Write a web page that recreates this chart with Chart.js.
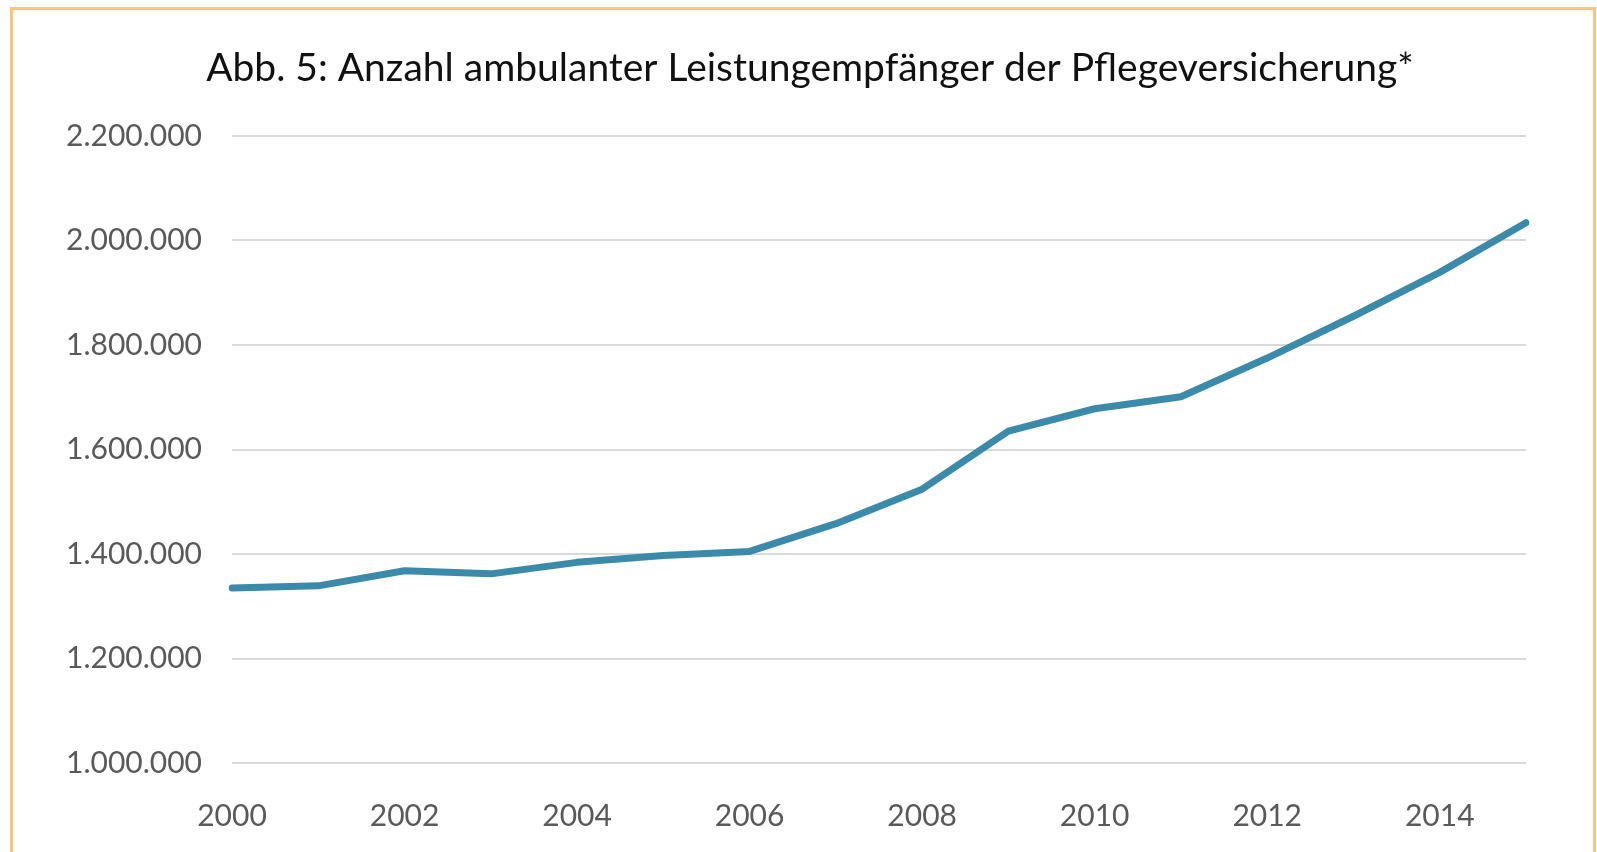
<!DOCTYPE html>
<html>
<head>
<meta charset="utf-8">
<script src="https://cdn.jsdelivr.net/npm/chart.js@4/dist/chart.umd.min.js"></script>
<style>
  html, body { margin: 0; padding: 0; background: #fff; }
  #wrap { position: relative; width: 1597px; height: 852px; overflow: hidden; }
  #frame {
    position: absolute; left: 10px; top: 7px; width: 1580px; height: 900px;
    border: 3px solid #f9c47c; border-bottom: none; pointer-events: none;
  }
  canvas { position: absolute; left: 0; top: 0; }
</style>
</head>
<body>
<div id="wrap">
  <canvas id="chart" width="1597" height="852"></canvas>
  <div id="frame"></div>
</div>
<script>
const years = ['2000', '2001', '2002', '2003', '2004', '2005', '2006', '2007',
  '2008', '2009', '2010', '2011', '2012', '2013', '2014', '2015'];
const recipients = [1335000, 1339000, 1368000, 1362000, 1384000, 1397000, 1405000, 1458000,
  1524000, 1635000, 1678000, 1701000, 1775000, 1855000, 1939000, 2034000];
const chartTitle = 'Abb. 5: Anzahl ambulanter Leistungempfänger der Pflegeversicherung*';

const fmt = v => String(v).replace(/\B(?=(\d{3})+(?!\d))/g, '.');

// the title sits a bit right of the canvas centre, so draw it ourselves
const titlePlugin = {
  id: 'offsetTitle',
  afterDraw(chart) {
    const c = chart.ctx;
    c.save();
    c.font = '39px Lato';
    c.fillStyle = '#111';
    c.textAlign = 'center';
    c.textBaseline = 'middle';
    c.fillText(chartTitle, 810, 68);
    c.restore();
  }
};

const ctx = document.getElementById('chart').getContext('2d');
new Chart(ctx, {
  type: 'line',
  data: {
    labels: years,
    datasets: [{
      data: recipients,
      borderColor: '#3b8aaa',
      borderWidth: 7,
      borderCapStyle: 'round',
      borderJoinStyle: 'round',
      pointRadius: 0,
      tension: 0,
      fill: false
    }]
  },
  options: {
    responsive: false,
    animation: false,
    layout: { padding: { left: 0, right: 71, top: 136, bottom: 0 } },
    plugins: {
      legend: { display: false },
      tooltip: { enabled: false },
      title: { display: false }
    },
    scales: {
      x: {
        offset: false,
        grid: { display: false },
        border: { display: false },
        ticks: {
          autoSkip: false,
          maxRotation: 0,
          padding: 27,
          color: '#595959',
          font: { family: 'Lato', size: 30 },
          callback: function (value, index) {
            return index % 2 === 0 ? this.getLabelForValue(value) : '';
          }
        },
        afterFit: scale => { scale.height = 89; }
      },
      y: {
        min: 1000000,
        max: 2200000,
        grid: { color: '#d9d9d9', lineWidth: 2, drawTicks: false },
        border: { display: false },
        ticks: {
          stepSize: 200000,
          padding: 30,
          color: '#595959',
          font: { family: 'Lato', size: 30 },
          callback: v => fmt(v)
        },
        afterFit: scale => { scale.width = 232; }
      }
    }
  },
  plugins: [titlePlugin]
});
</script>
</body>
</html>
